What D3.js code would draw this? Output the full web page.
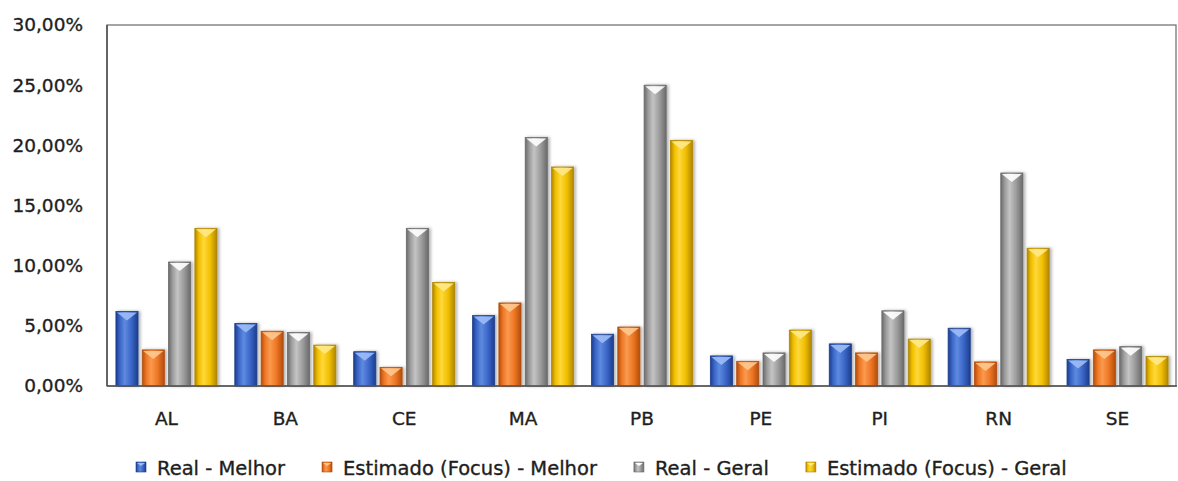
<!DOCTYPE html>
<html>
<head>
<meta charset="utf-8">
<script src="https://cdn.jsdelivr.net/npm/d3@7"></script>
<style>
    html, body { margin: 0; padding: 0; background: #fff; }
    svg { display: block; font-family: "DejaVu Sans", sans-serif; }
    .lbl { fill: #1e1e1e; stroke: #1e1e1e; stroke-width: 0.35; }
</style>
</head>
<body>
<svg id="chart" width="1178" height="481"></svg>
<script>
// Real vs estimated (Focus) by state, best and general

const categories = ["AL", "BA", "CE", "MA", "PB", "PE", "PI", "RN", "SE"];
const seriesNames = ["Real - Melhor", "Estimado (Focus) - Melhor", "Real - Geral", "Estimado (Focus) - Geral"];

// values in percent
const realMelhor = [6.2, 5.2, 2.85, 5.85, 4.3, 2.5, 3.5, 4.8, 2.2];
const estimadoMelhor = [3.0, 4.55, 1.55, 6.9, 4.9, 2.05, 2.75, 2.0, 3.0];
const realGeral = [10.3, 4.45, 13.1, 20.65, 25.0, 2.75, 6.25, 17.7, 3.27];
const estimadoGeral = [13.1, 3.4, 8.6, 18.2, 20.4, 4.65, 3.9, 11.45, 2.45];

const yTicks = [0, 5, 10, 15, 20, 25, 30];

// edge / mid / light / cap colours for the bevelled bars
const palette = [
    { edge: "#1d3d8c", mid: "#3a66c8", light: "#5f8ae0", cap: "#9dbcf5" },
    { edge: "#b24d0c", mid: "#ee7624", light: "#fa9a4e", cap: "#fdc990" },
    { edge: "#6a6a6a", mid: "#9b9b9b", light: "#c4c4c4", cap: "#ffffff" },
    { edge: "#b08600", mid: "#f0bf00", light: "#ffd83a", cap: "#ffe98a" }
];

(function () {
    const W = 1178, H = 481;
    const plot = { left: 107, right: 1177, top: 25, bottom: 386 };

    const seriesValues = [realMelhor, estimadoMelhor, realGeral, estimadoGeral];
    const rows = categories.map((c, i) => ({
        cat: c,
        vals: seriesValues.map((s, k) => ({ k: k, v: s[i] }))
    }));

    const svg = d3.select("#chart").attr("viewBox", `0 0 ${W} ${H}`);
    const defs = svg.append("defs");

    palette.forEach((p, k) => {
        const g = defs.append("linearGradient")
            .attr("id", "grad" + k)
            .attr("x1", "0%").attr("x2", "100%").attr("y1", "0%").attr("y2", "0%");
        g.append("stop").attr("offset", "0%").attr("stop-color", p.edge);
        g.append("stop").attr("offset", "18%").attr("stop-color", p.mid);
        g.append("stop").attr("offset", "40%").attr("stop-color", p.light);
        g.append("stop").attr("offset", "70%").attr("stop-color", p.mid);
        g.append("stop").attr("offset", "100%").attr("stop-color", p.edge);
    });

    const shadow = defs.append("filter").attr("id", "shadow")
        .attr("x", "-30%").attr("y", "-10%").attr("width", "160%").attr("height", "120%");
    shadow.append("feDropShadow")
        .attr("dx", 2).attr("dy", 0).attr("stdDeviation", 1.6)
        .attr("flood-color", "#000").attr("flood-opacity", 0.3);

    const x0 = d3.scaleBand()
        .domain(categories)
        .range([plot.left, plot.right])
        .paddingInner(0.15)
        .paddingOuter(0.075);

    const x1 = d3.scaleBand()
        .domain(d3.range(seriesNames.length))
        .range([0, x0.bandwidth()])
        .paddingInner(0.16);

    const y = d3.scaleLinear()
        .domain([0, 30])
        .range([plot.bottom, plot.top]);

    const locale = d3.formatLocale({ decimal: ",", thousands: ".", grouping: [3], currency: ["R$", ""] });
    const fmt = v => locale.format(".2f")(v) + "%";

    // y axis labels
    const yAxis = svg.append("g")
        .attr("transform", `translate(${plot.left},0)`)
        .call(d3.axisLeft(y).tickValues(yTicks).tickFormat(fmt).tickSize(0).tickPadding(24));
    yAxis.select(".domain").remove();
    yAxis.selectAll("text")
        .attr("class", "lbl")
        .attr("font-size", 18.5)
        .attr("font-family", "DejaVu Sans, sans-serif");

    // frame
    svg.append("rect")
        .attr("x", plot.left).attr("y", plot.top)
        .attr("width", plot.right - plot.left - 1)
        .attr("height", plot.bottom - plot.top)
        .attr("fill", "none")
        .attr("stroke", "#6a6a6a")
        .attr("stroke-width", 1.2);

    // bars
    const groups = svg.append("g").selectAll("g")
        .data(rows)
        .join("g")
        .attr("transform", d => `translate(${x0(d.cat)},0)`);

    const bars = groups.selectAll("g")
        .data(d => d.vals)
        .join("g")
        .attr("filter", "url(#shadow)");

    const bw = x1.bandwidth();

    bars.append("rect")
        .attr("x", d => x1(d.k))
        .attr("y", d => y(d.v))
        .attr("width", bw)
        .attr("height", d => y(0) - y(d.v))
        .attr("fill", d => `url(#grad${d.k})`)
        .attr("stroke", d => palette[d.k].edge)
        .attr("stroke-width", 0.8);

    // top bevel chevron
    bars.append("path")
        .attr("d", d => {
            const xl = x1(d.k) + 1, xr = x1(d.k) + bw - 1, yt = y(d.v) + 1;
            const depth = Math.min(8, (y(0) - y(d.v)) / 2);
            return `M${xl},${yt} L${xr},${yt} L${(xl + xr) / 2},${yt + depth} Z`;
        })
        .attr("fill", d => palette[d.k].cap)
        .attr("opacity", 0.9);

    // left and bottom axis lines over bars
    svg.append("line")
        .attr("x1", plot.left).attr("x2", plot.right)
        .attr("y1", plot.bottom).attr("y2", plot.bottom)
        .attr("stroke", "#555").attr("stroke-width", 1.6);
    svg.append("line")
        .attr("x1", plot.left).attr("x2", plot.left)
        .attr("y1", plot.top).attr("y2", plot.bottom)
        .attr("stroke", "#555").attr("stroke-width", 1.6);

    // category labels
    svg.append("g").selectAll("text")
        .data(categories)
        .join("text")
        .attr("class", "lbl")
        .attr("x", d => x0(d) + x0.bandwidth() / 2)
        .attr("y", 425)
        .attr("text-anchor", "middle")
        .attr("font-size", 18.5)
        .text(d => d);

    // legend, laid out left to right
    const legend = svg.append("g");
    let lx = 136;
    seriesNames.forEach((name, k) => {
        const item = legend.append("g");
        item.append("rect")
            .attr("x", lx).attr("y", 462)
            .attr("width", 10).attr("height", 10)
            .attr("fill", `url(#grad${k})`)
            .attr("stroke", palette[k].edge).attr("stroke-width", 0.6);
        item.append("path")
            .attr("d", `M${lx + 1},${463} L${lx + 9},${463} L${lx + 5},${466} Z`)
            .attr("fill", palette[k].cap);
        const t = item.append("text")
            .attr("class", "lbl")
            .attr("x", lx + 21).attr("y", 475)
            .attr("font-size", 19.5)
            .text(name);
        lx += 21 + t.node().getComputedTextLength() + 37;
    });
})();
</script>
</body>
</html>
